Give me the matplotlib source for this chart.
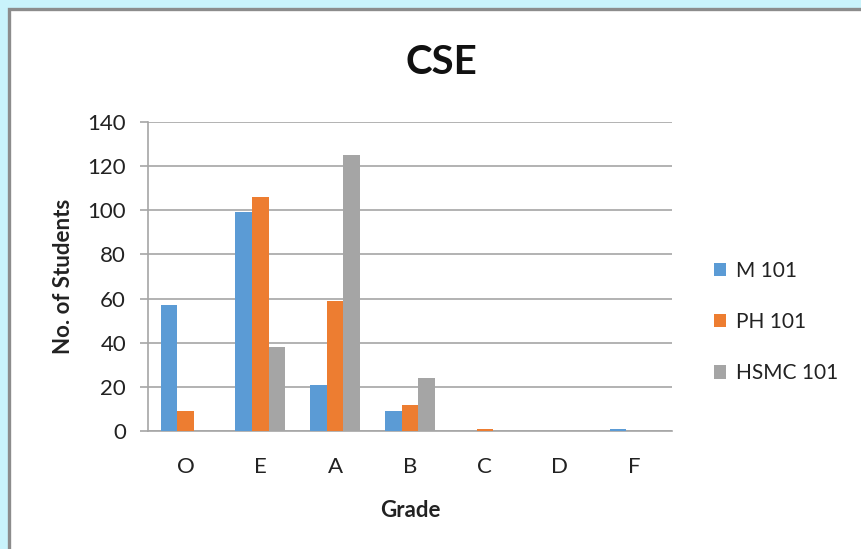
import numpy as np
import matplotlib
matplotlib.use("Agg")
import matplotlib.pyplot as plt
from matplotlib.patches import Rectangle

plt.rcParams["font.family"] = ["Lato", "DejaVu Sans"]

grades = ["O", "E", "A", "B", "C", "D", "F"]
series_names = ["M 101", "PH 101", "HSMC 101"]
m101 = [57, 99, 21, 9, 0, 0, 1]
ph101 = [9, 106, 59, 12, 1, 0, 0]
hsmc101 = [0, 38, 125, 24, 0, 0, 0]
colors = ["#5B9BD5", "#ED7D31", "#A5A5A5"]

W, H = 862, 549
fig = plt.figure(figsize=(W / 100, H / 100), dpi=100)
fig.patch.set_facecolor("#c9f3fb")

# chart frame (white area with grey border)
frame = Rectangle((9.5 / W, -0.1), 1.2, (H - 9.5) / H + 0.1,
                  transform=fig.transFigure, facecolor="white",
                  edgecolor="#8c8c8c", linewidth=2.4, zorder=-10)
fig.patches.append(frame)

ax = fig.add_axes([148 / W, 1 - 431 / H, (672 - 148) / W, (431 - 122) / H])
ax.set_facecolor("none")

x = np.arange(len(grades))
bw = 0.222
for j, (name, vals) in enumerate(zip(series_names, [m101, ph101, hsmc101])):
    ax.bar(x + (j - 1) * bw, vals, width=bw, color=colors[j], label=name,
           zorder=3)

ax.set_xlim(-0.5, len(grades) - 0.5)
ax.set_ylim(0, 140)
ax.set_yticks(np.arange(0, 141, 20))
ax.set_xticks(x)
ax.set_xticklabels(grades)

ax.grid(axis="y", color="#a6a6a6", linewidth=1.2, zorder=0)
for s in ["top", "right"]:
    ax.spines[s].set_visible(False)
ax.spines["left"].set_color("#a6a6a6")
ax.spines["bottom"].set_color("#a6a6a6")
ax.spines["left"].set_linewidth(1.2)
ax.spines["bottom"].set_linewidth(1.2)

ax.tick_params(axis="y", length=5.8, width=1.2, color="#a6a6a6", pad=10,
               labelsize=16, labelcolor="#222222")
ax.tick_params(axis="x", length=0, pad=19, labelsize=16, labelcolor="#222222")

ax.set_xlabel("Grade", fontsize=16, fontweight="bold", color="#222222",
              labelpad=16)
ax.set_ylabel("No. of Students", fontsize=16, fontweight="bold",
              color="#222222", labelpad=10)

fig.text(441 / W, 1 - 62 / H, "CSE", fontsize=29, fontweight="bold",
         ha="center", va="center", color="#111111")

ax.legend(loc="center left", bbox_to_anchor=(695 / W, 1 - 322 / H),
          bbox_transform=fig.transFigure, frameon=False, fontsize=15,
          handlelength=0.6, handleheight=0.6, handletextpad=0.45,
          labelspacing=1.5, labelcolor="#222222")

fig.savefig("out.png", dpi=100)
